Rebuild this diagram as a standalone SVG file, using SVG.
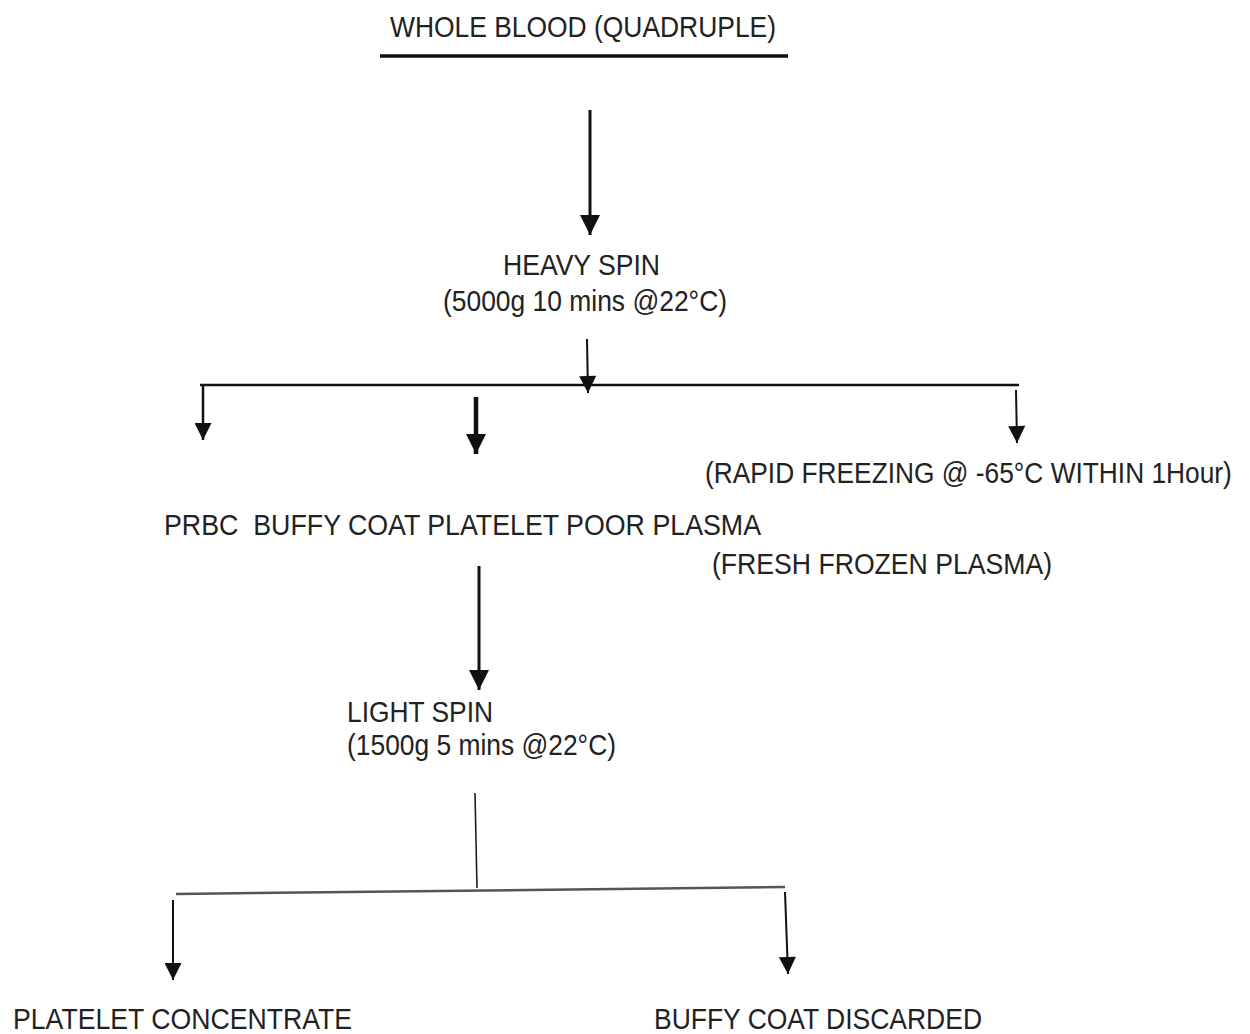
<svg xmlns="http://www.w3.org/2000/svg" width="1250" height="1034" viewBox="0 0 1250 1034">
<style>
text{font-family:"Liberation Sans",Arial,sans-serif;fill:#222;font-size:30px}
.ln{stroke:#111;fill:none}
</style>
<defs>
<marker id="ah" viewBox="0 0 10 10" refX="10" refY="5" markerUnits="userSpaceOnUse" markerWidth="22" markerHeight="20" orient="auto"><path d="M0,0 L10,5 L0,10 z" fill="#111"/></marker>
<marker id="ahs" viewBox="0 0 10 10" refX="10" refY="5" markerUnits="userSpaceOnUse" markerWidth="19" markerHeight="17" orient="auto"><path d="M0,0 L10,5 L0,10 z" fill="#111"/></marker>
</defs>
<rect width="1250" height="1034" fill="#fff"/>
<g id="whole-blood">
<text x="390" y="37" font-size="32" textLength="386" lengthAdjust="spacingAndGlyphs">WHOLE BLOOD (QUADRUPLE)</text>
<line class="ln" x1="380" y1="56" x2="788" y2="56" stroke-width="3.5"/>
</g>
<g id="heavy-spin">
<text x="503" y="275" textLength="157" lengthAdjust="spacingAndGlyphs">HEAVY SPIN</text>
<text x="443" y="311" textLength="284" lengthAdjust="spacingAndGlyphs">(5000g 10 mins @22°C)</text>
</g>
<g id="rapid-freezing">
<text transform="translate(705,483) scale(0.89,1)" x="0" y="0" textLength="592" lengthAdjust="spacingAndGlyphs">(RAPID FREEZING @ -65°C WITHIN 1Hour)</text>
</g>
<g id="components">
<text x="164" y="535" textLength="597" lengthAdjust="spacingAndGlyphs" xml:space="preserve">PRBC  BUFFY COAT PLATELET POOR PLASMA</text>
</g>
<g id="ffp">
<text x="712" y="574" textLength="340" lengthAdjust="spacingAndGlyphs">(FRESH FROZEN PLASMA)</text>
</g>
<g id="light-spin">
<text x="347" y="722" textLength="146" lengthAdjust="spacingAndGlyphs">LIGHT SPIN</text>
<text x="347" y="755" textLength="269" lengthAdjust="spacingAndGlyphs">(1500g 5 mins @22°C)</text>
</g>
<g id="platelet-concentrate">
<text x="13" y="1029" textLength="339" lengthAdjust="spacingAndGlyphs">PLATELET CONCENTRATE</text>
</g>
<g id="buffy-coat-discarded">
<text x="654" y="1029" textLength="328" lengthAdjust="spacingAndGlyphs">BUFFY COAT DISCARDED</text>
</g>
<g id="connectors">
<line class="ln" x1="590" y1="110" x2="590" y2="235" stroke-width="3" marker-end="url(#ah)"/>
<line class="ln" x1="587" y1="339" x2="588" y2="393" stroke-width="2" marker-end="url(#ahs)"/>
<line class="ln" x1="200" y1="385" x2="1019" y2="385" stroke-width="2.5"/>
<line class="ln" x1="203" y1="385" x2="203" y2="440" stroke-width="2.5" marker-end="url(#ahs)"/>
<line class="ln" x1="476" y1="397" x2="476" y2="454" stroke-width="4.5" marker-end="url(#ah)"/>
<line class="ln" x1="1016" y1="390" x2="1017" y2="443" stroke-width="2" marker-end="url(#ahs)"/>
<line class="ln" x1="479" y1="566" x2="479" y2="690" stroke-width="3" marker-end="url(#ah)"/>
<line class="ln" x1="475" y1="793" x2="477" y2="888" stroke-width="1.5"/>
<line x1="176" y1="894" x2="785" y2="887" stroke="#555" stroke-width="2.5"/>
<line class="ln" x1="173" y1="900" x2="173" y2="980" stroke-width="2" marker-end="url(#ahs)"/>
<line class="ln" x1="785" y1="892" x2="788" y2="974" stroke-width="2" marker-end="url(#ahs)"/>
</g>
</svg>
